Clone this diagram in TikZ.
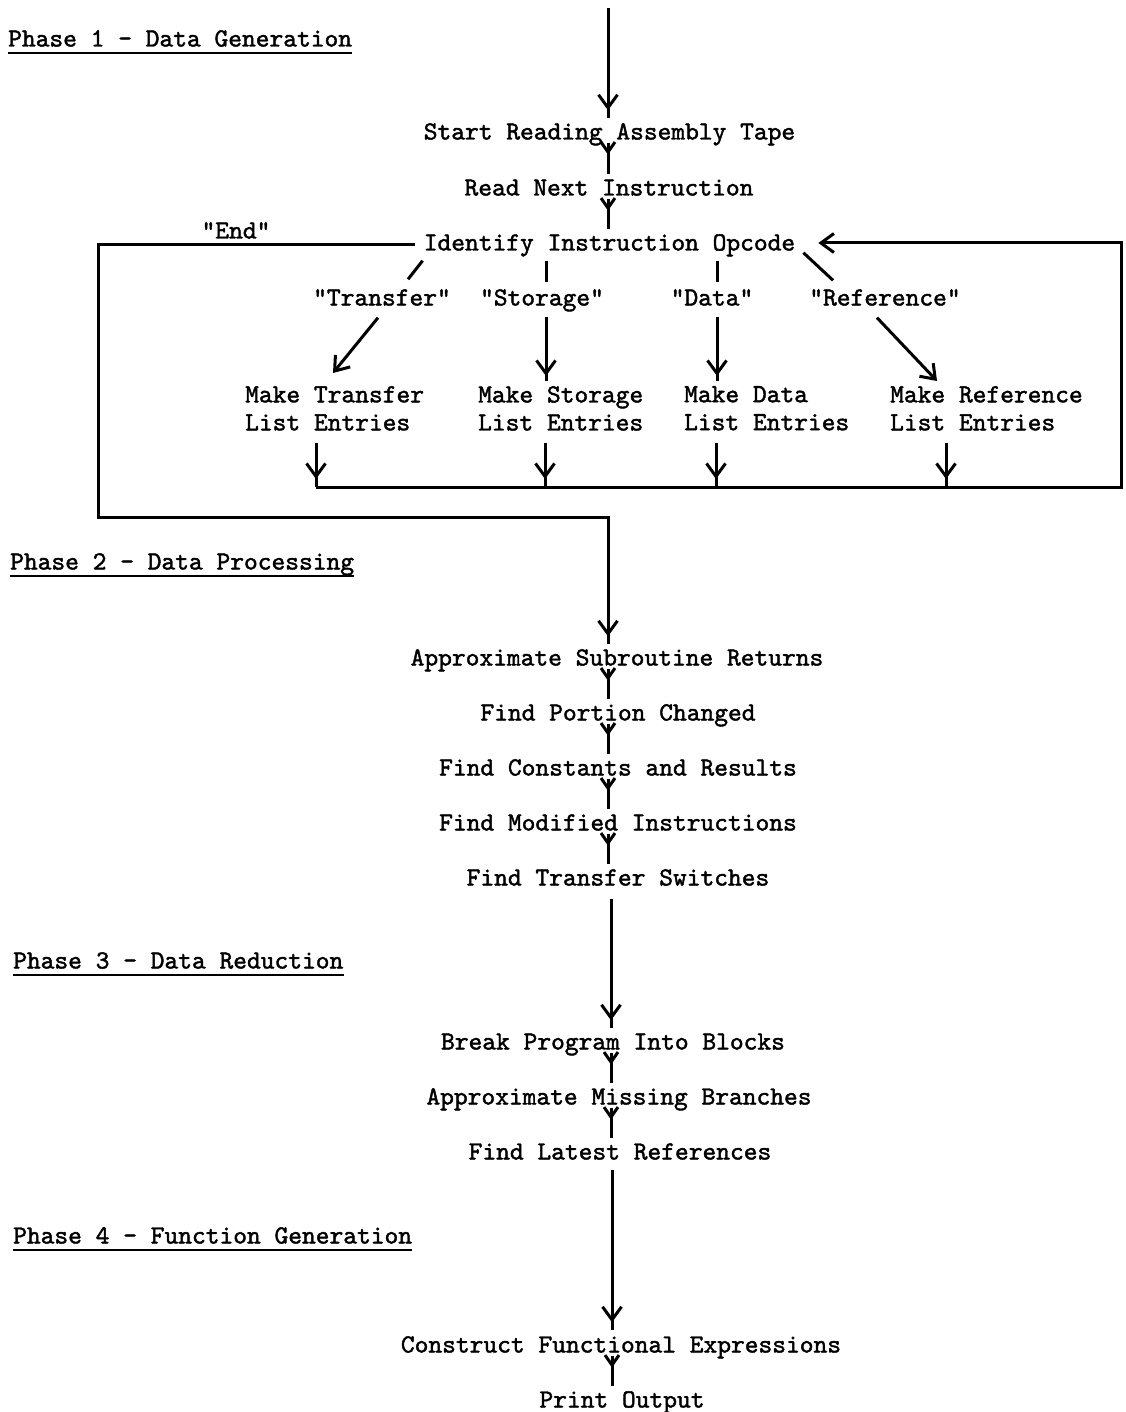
\documentclass[tikz,border=0pt]{standalone}
\usepackage{fontspec}
\newfontfamily\twfont{lmmono10-regular.otf}[FakeBold=1.6]
\usetikzlibrary{arrows.meta,calc,decorations.markings}
\tikzset{
  bigtip/.tip={Straight Barb[length=13pt,width=19pt]},
  smalltip/.tip={Straight Barb[length=10pt,width=14pt]}
}
\begin{document}
\begin{tikzpicture}[x=1pt,y=-1pt,
  lbl/.style={font=\fontsize{26.2}{28}\selectfont\twfont\bfseries, inner sep=0pt, text height=17pt, text depth=0pt},
  twoline/.style={font=\fontsize{26.2}{28}\selectfont\twfont\bfseries, inner sep=0pt, align=left, anchor=north west},
  flow/.style={line width=3pt},
  uline/.style={line width=2pt},
  ytip/.style={flow, postaction={decorate}, decoration={markings, mark=at position #1 with {\arrow{smalltip}}}},
  btip/.style={flow, postaction={decorate}, decoration={markings, mark=at position #1 with {\arrow{bigtip}}}}
]
\fill[white] (0,0) rectangle (1125,1412);
\useasboundingbox (0,0) rectangle (1125,1412);

% phase headings
\node[lbl, anchor=west] (ph1) at (8,38) {Phase 1 - Data Generation};
\node[lbl, anchor=west] (ph2) at (10,561) {Phase 2 - Data Processing};
\node[lbl, anchor=west] (ph3) at (13,960) {Phase 3 - Data Reduction};
\node[lbl, anchor=west] (ph4) at (13,1235) {Phase 4 - Function Generation};
\foreach \p in {ph1,ph2,ph3,ph4}
  \draw[uline] ([yshift=-6pt]\p.south west) -- ([yshift=-6pt]\p.south east);

% phase 1
\node[lbl] (start) at (609.5,131) {Start Reading Assembly Tape};
\node[lbl] (read)  at (609,187)   {Read Next Instruction};
\node[lbl] (ident) at (609.5,242) {Identify Instruction Opcode};
\node[lbl] (endlab) at (236,230) {"End"};
\node[lbl] (tlab) at (382,297) {"Transfer"};
\node[lbl] (slab) at (542,297) {"Storage"};
\node[lbl] (dlab) at (712,297) {"Data"};
\node[lbl] (rlab) at (885,297) {"Reference"};
\node[twoline] (mkT) at (245,386) {Make Transfer\\List Entries};
\node[twoline] (mkS) at (478,386) {Make Storage\\List Entries};
\node[twoline] (mkD) at (684,386) {Make Data\\List Entries};
\node[twoline] (mkR) at (890,386) {Make Reference\\List Entries};

% phase 2
\node[lbl] (approx)  at (617,657) {Approximate Subroutine Returns};
\node[lbl] (portion) at (618,712) {Find Portion Changed};
\node[lbl] (consts)  at (618,767) {Find Constants and Results};
\node[lbl] (modif)   at (618,822) {Find Modified Instructions};
\node[lbl] (tswitch) at (618,877) {Find Transfer Switches};

% phase 3
\node[lbl] (break)   at (613,1041) {Break Program Into Blocks};
\node[lbl] (missing) at (619,1096) {Approximate Missing Branches};
\node[lbl] (latest)  at (620,1151) {Find Latest References};

% phase 4
\node[lbl] (construct) at (621,1344) {Construct Functional Expressions};
\node[lbl] (print)     at (622,1399) {Print Output};

% routing points
\coordinate (entry) at (608,8);
\coordinate (spA) at (608,0);
\coordinate (spC) at (611,0);
\coordinate (spD) at (612,0);
\coordinate (colS) at (546,0);
\coordinate (colD) at (717,0);
\coordinate (loopL1) at (98,245);
\coordinate (loopL2) at (98,517);
\coordinate (loopL3) at (608,517);
\coordinate (bus0) at (316,487);
\coordinate (busS) at (545,487);
\coordinate (busD) at (716,487);
\coordinate (busR) at (946,487);
\coordinate (bus1) at (1121,487);
\coordinate (loopR) at (1121,243);

% phase 1 flow
\draw[btip=-8pt] (entry) -- ([yshift=4pt]start.north -| spA);
\draw[ytip=12pt] ([yshift=-3pt]start.south -| spA) -- ([yshift=4pt]read.north -| spA);
\draw[ytip=12pt] ([yshift=-3pt]read.south -| spA) -- ([yshift=4pt]ident.north -| spA);

% opcode branches
\draw[flow] ($(ident.south west)+(-1,10)$) -- ($(tlab.north)+(26,-9)$);
\draw[flow,-{bigtip}] ($(tlab.south)+(-4,12)$) -- ($(mkT.north west)+(88,-13)$);
\draw[flow] ([yshift=-10pt]ident.south -| colS) -- ([yshift=6pt]slab.north -| colS);
\draw[btip=-5pt] ([yshift=-11pt]slab.south -| colS) -- ([yshift=5pt]mkS.north -| colS);
\draw[flow] ([yshift=-10pt]ident.south -| colD) -- ([yshift=6pt]dlab.north -| colD);
\draw[btip=-5pt] ([yshift=-11pt]dlab.south -| colD) -- ([yshift=5pt]mkD.north -| colD);
\draw[flow] ($(ident.south east)+(8,2)$) -- ($(rlab.north)+(-52,-8)$);
\draw[flow,-{bigtip}] ($(rlab.south)+(-8,12)$) -- ($(mkR.north west)+(47,-5)$);

% list entries join the return bus
\draw[btip=-8pt] ([yshift=-12pt]mkT.south -| bus0) -- (bus0);
\draw[btip=-8pt] ([yshift=-12pt]mkS.south -| busS) -- (busS);
\draw[btip=-8pt] ([yshift=-12pt]mkD.south -| busD) -- (busD);
\draw[btip=-8pt] ([yshift=-12pt]mkR.south -| busR) -- (busR);
\draw[flow,-{bigtip}] (bus0) -- (bus1) -- (loopR) -- ([xshift=23pt]ident.east |- loopR);

% "End" exit into phase 2
\draw[btip=-8pt] ([xshift=-9pt]ident.west |- loopL1) -- (loopL1) -- (loopL2) -- (loopL3) -- ([yshift=4pt]approx.north -| loopL3);

% phase 2 flow
\foreach \a/\b in {approx/portion, portion/consts, consts/modif, modif/tswitch}
  \draw[ytip=12pt] ([yshift=-3pt]\a.south -| spA) -- ([yshift=4pt]\b.north -| spA);

% phase 3 flow
\draw[btip=-8pt] ([yshift=-13pt]tswitch.south -| spC) -- ([yshift=4pt]break.north -| spC);
\foreach \a/\b in {break/missing, missing/latest}
  \draw[ytip=12pt] ([yshift=-3pt]\a.south -| spC) -- ([yshift=4pt]\b.north -| spC);

% phase 4 flow
\draw[btip=-8pt] ([yshift=-10pt]latest.south -| spD) -- ([yshift=5pt]construct.north -| spD);
\draw[ytip=12pt] ([yshift=-3pt]construct.south -| spD) -- ([yshift=4pt]print.north -| spD);
\end{tikzpicture}
\end{document}
